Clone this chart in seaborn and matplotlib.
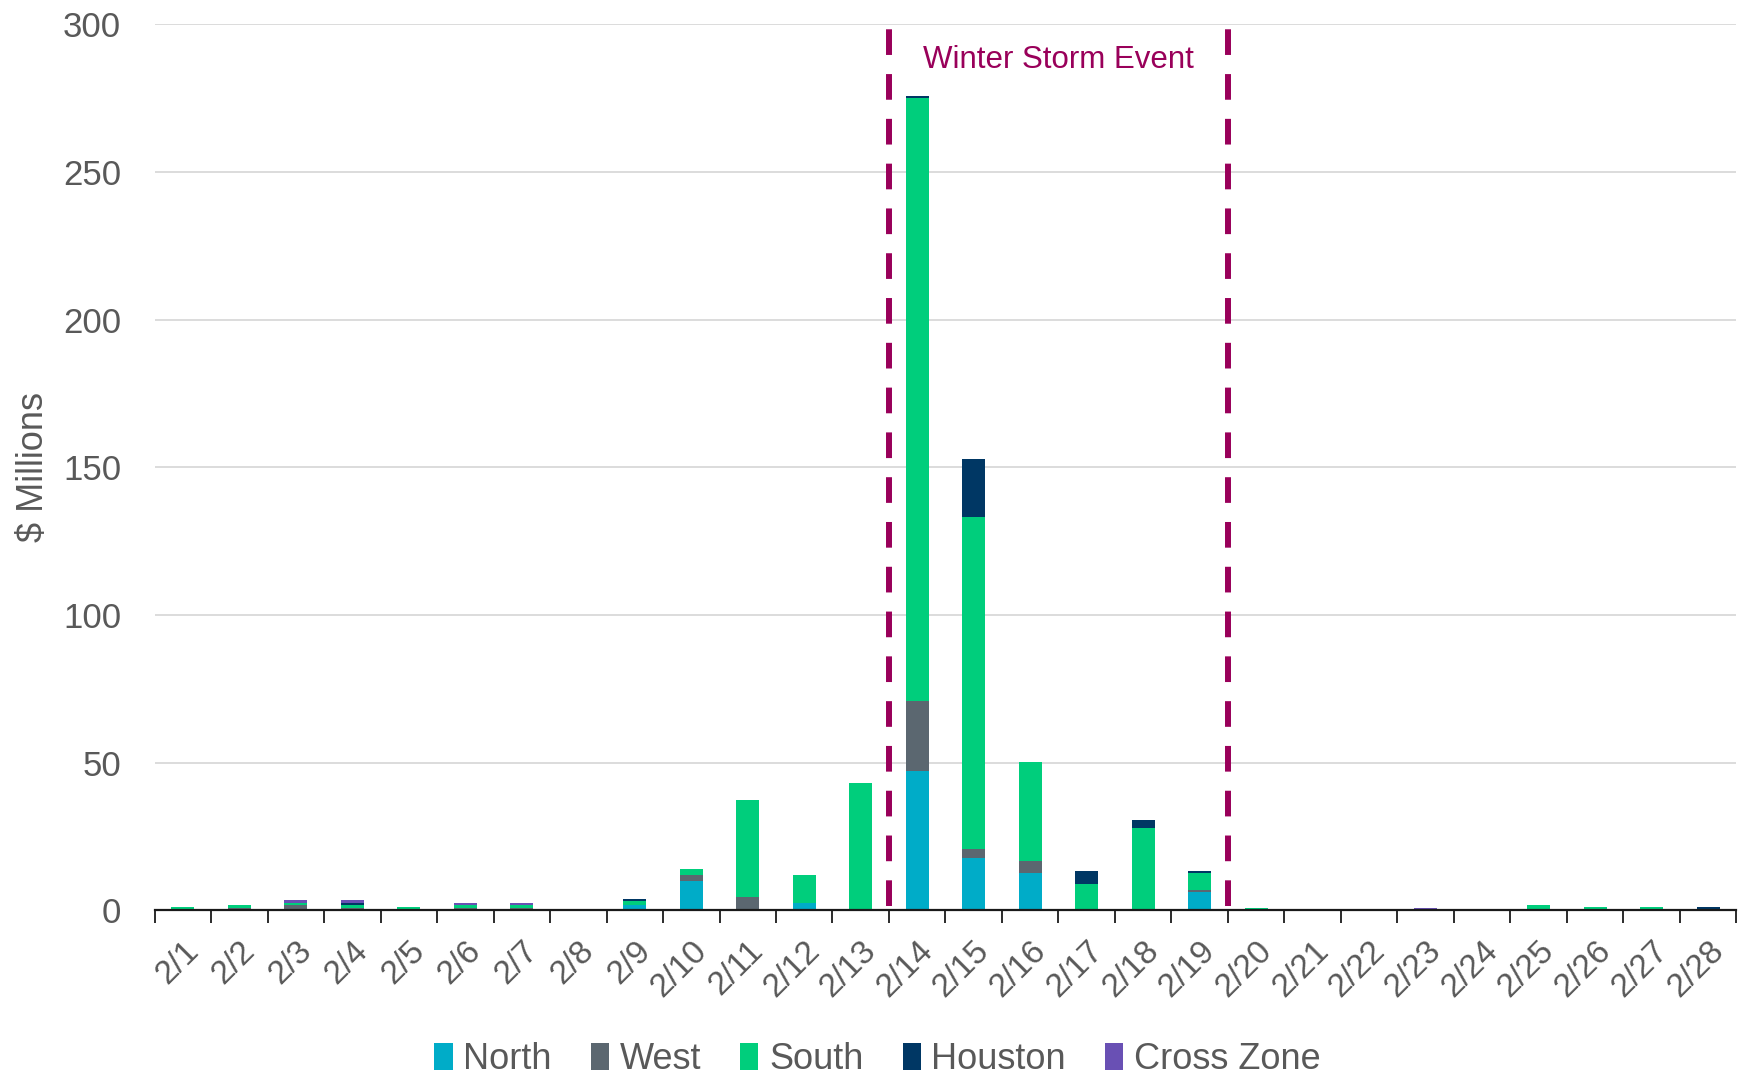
import numpy as np
import pandas as pd
import matplotlib
matplotlib.use("Agg")
import matplotlib.pyplot as plt
from matplotlib.patches import Patch
import seaborn as sns

days = [f"2/{d}" for d in range(1, 29)]
zones = ["North", "West", "South", "Houston", "Cross Zone"]
colors = ["#00ACC8", "#5B6770", "#00CE7C", "#003764", "#6950B4"]

north = [0.0, 0.0, 0.0, 0.0, 0.0, 0.0, 0.0, 0.0, 1.7, 9.9, 0.0, 2.6, 0.0, 47.3,
         17.6, 12.7, 0.0, 0.0, 6.1, 0.0, 0.0, 0.0, 0.0, 0.0, 0.0, 0.0, 0.0, 0.0]
west = [0.0, 0.8, 1.7, 0.7, 0.0, 0.7, 0.7, 0.3, 0.0, 2.0, 4.6, 0.0, 0.0, 23.7,
        3.1, 4.1, 0.0, 0.0, 0.8, 0.0, 0.3, 0.3, 0.0, 0.3, 0.0, 0.0, 0.0, 0.0]
south = [1.0, 1.0, 0.9, 1.1, 1.0, 1.0, 1.0, 0.0, 1.6, 2.1, 32.8, 9.4, 43.0, 204.0,
         112.6, 33.4, 9.0, 27.9, 5.8, 0.9, 0.0, 0.0, 0.0, 0.0, 1.8, 1.0, 1.0, 0.0]
houston = [0.0, 0.0, 0.0, 0.85, 0.0, 0.0, 0.0, 0.0, 0.7, 0.0, 0.0, 0.0, 0.0, 0.8,
           19.4, 0.0, 4.3, 2.8, 0.6, 0.0, 0.0, 0.0, 0.0, 0.0, 0.0, 0.0, 0.0, 1.0]
cross_zone = [0.0, 0.0, 0.8, 0.7, 0.0, 0.85, 0.85, 0.0, 0.0, 0.0, 0.0, 0.0, 0.0, 0.0,
              0.0, 0.0, 0.0, 0.0, 0.0, 0.0, 0.0, 0.0, 0.9, 0.0, 0.0, 0.0, 0.0, 0.0]

storm_start, storm_end = "2/14", "2/19"
y_ticks = [0, 50, 100, 150, 200, 250, 300]

series = [north, west, south, houston, cross_zone]
df = pd.DataFrame({"day": days})
for name, vals in zip(zones, series):
    df[name] = vals
stack = df[zones].cumsum(axis=1)

sns.set_theme(style="white")
plt.rcParams["font.family"] = ["Liberation Sans", "DejaVu Sans"]
text_grey = "#595959"
storm_col = "#99005A"

fig = plt.figure(figsize=(17.48, 10.78), dpi=100)
ax = fig.add_axes([0.0884, 0.1555, 0.905, 0.8219])

# stacked bars: draw cumulative totals from the top segment down
for name, col in reversed(list(zip(zones, colors))):
    sns.barplot(x=df["day"], y=stack[name], color=col, saturation=1,
                width=0.41, errorbar=None, ax=ax, zorder=3,
                linewidth=0, edgecolor="none")

ax.set_xlim(-0.5, len(days) - 0.5)
ax.set_ylim(0, 300)
ax.set_yticks(y_ticks)
ax.grid(axis="y", color="#D9D9D9", linewidth=1.3, zorder=0)
ax.grid(axis="x", visible=False)
for s in ["top", "right", "left"]:
    ax.spines[s].set_visible(False)
ax.spines["bottom"].set_color("#1a1a1a")
ax.spines["bottom"].set_linewidth(1.6)
ax.spines["bottom"].set_zorder(4)

ax.set_xticks(range(len(days)))
ax.set_xticklabels(days, rotation=45, ha="right", rotation_mode="anchor")
ax.set_xticks(np.arange(-0.5, len(days), 1.0), minor=True)
ax.tick_params(axis="x", which="major", length=0, labelsize=24,
               labelcolor=text_grey, pad=18)
ax.tick_params(axis="x", which="minor", length=9.5, width=1.3,
               color="#1a1a1a", direction="out", bottom=True)
ax.tick_params(axis="y", length=0, labelsize=25, labelcolor=text_grey, pad=24)
ax.set_xlabel("")
ax.set_ylabel("$ Millions", fontsize=26, color=text_grey, labelpad=9)

# storm window markers
i0 = days.index(storm_start) - 0.5
i1 = days.index(storm_end) + 0.5
for xv in (i0, i1):
    ax.plot([xv, xv], [1.5, 300], color=storm_col, linewidth=4.3,
            linestyle=(0, (4.3, 3.2)), zorder=5, clip_on=False)
ax.text((i0 + i1) / 2, 288, "Winter Storm Event", color=storm_col,
        fontsize=22.5, ha="center", va="center", zorder=6)

handles = [Patch(facecolor=c, edgecolor="none", label=z) for z, c in zip(zones, colors)]
fig.legend(handles=handles, loc="center", bbox_to_anchor=(0.502, 0.017), ncol=5,
           frameon=False, fontsize=26, handlelength=0.5, handleheight=0.8,
           handletextpad=0.3, columnspacing=1.08, labelcolor=text_grey)

fig.savefig("out.png", dpi=100)
